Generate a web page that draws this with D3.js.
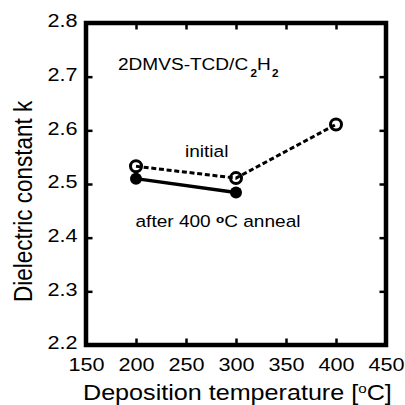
<!DOCTYPE html>
<html>
<head>
<meta charset="utf-8">
<script src="https://cdn.jsdelivr.net/npm/d3@7"></script>
<style>
  body { margin: 0; background: #fff; }
  text { font-family: "Liberation Sans", Arial, sans-serif; }
</style>
</head>
<body>
<div class="main"></div>
<script>
//// Data
const temps = [200, 300, 400];
const initialK = [2.533, 2.511, 2.611];
const annealTemps = [200, 300];
const annealK = [2.51, 2.484];
const xTicks = [150, 200, 250, 300, 350, 400, 450];
const yTicks = [2.2, 2.3, 2.4, 2.5, 2.6, 2.7, 2.8];

//// Globals
const width = 405;
const height = 405;
const margin = { top: 23, right: 19, bottom: 60, left: 86 };
const sx = 1.17; // text in the original is stretched horizontally

const svg = d3.select('.main').append('svg')
  .attr('width', width)
  .attr('height', height);

const x = d3.scaleLinear().domain([150, 450]).range([margin.left, width - margin.right]);
const y = d3.scaleLinear().domain([2.2, 2.8]).range([height - margin.bottom, margin.top]);

// ticks (inside, all four sides)
const tickLen = 6.5;
svg.append('g')
  .attr('transform', `translate(0,${y(2.2)})`)
  .call(d3.axisBottom(x).tickValues(xTicks).tickSize(-tickLen).tickFormat(d3.format('d')))
  .call(g => g.select('.domain').remove())
  .call(g => g.selectAll('line').attr('stroke-width', 2.5))
  .call(g => g.selectAll('text').attr('dy', 0).attr('y', 26).attr('font-size', 18.5)
    .attr('fill', '#000').attr('transform', `scale(${sx},1)`));

svg.append('g')
  .attr('transform', `translate(0,${y(2.8)})`)
  .call(d3.axisTop(x).tickValues(xTicks).tickSize(-tickLen).tickFormat(''))
  .call(g => g.select('.domain').remove())
  .call(g => g.selectAll('line').attr('stroke-width', 2.5));

svg.append('g')
  .attr('transform', `translate(${x(150)},0)`)
  .call(d3.axisLeft(y).tickValues(yTicks).tickSize(-tickLen).tickFormat(d3.format('.1f')))
  .call(g => g.select('.domain').remove())
  .call(g => g.selectAll('line').attr('stroke-width', 2.5))
  .call(g => g.selectAll('text').attr('x', -8.5 / sx).attr('dy', '0.2em').attr('font-size', 18.5)
    .attr('fill', '#000').attr('transform', `scale(${sx},1)`));

svg.append('g')
  .attr('transform', `translate(${x(450)},0)`)
  .call(d3.axisRight(y).tickValues(yTicks).tickSize(-tickLen).tickFormat(''))
  .call(g => g.select('.domain').remove())
  .call(g => g.selectAll('line').attr('stroke-width', 2.5));

// frame
svg.append('rect')
  .attr('x', x(150))
  .attr('y', y(2.8))
  .attr('width', x(450) - x(150))
  .attr('height', y(2.2) - y(2.8))
  .attr('fill', 'none')
  .attr('stroke', '#000')
  .attr('stroke-width', 4.5);

// lines
const line = d3.line().x(d => x(d[0])).y(d => y(d[1]));

svg.append('path')
  .datum(d3.zip(temps, initialK))
  .attr('d', line)
  .attr('fill', 'none')
  .attr('stroke', '#000')
  .attr('stroke-width', 3)
  .attr('stroke-dasharray', '5,2.7');

svg.append('path')
  .datum(d3.zip(annealTemps, annealK))
  .attr('d', line)
  .attr('fill', 'none')
  .attr('stroke', '#000')
  .attr('stroke-width', 3.5);

// markers
svg.append('g')
  .selectAll('circle')
  .data(d3.zip(annealTemps, annealK))
  .enter()
  .append('circle')
  .attr('cx', d => x(d[0]))
  .attr('cy', d => y(d[1]))
  .attr('r', 6)
  .attr('fill', '#000');

svg.append('g')
  .selectAll('circle')
  .data(d3.zip(temps, initialK))
  .enter()
  .append('circle')
  .attr('cx', d => x(d[0]))
  .attr('cy', d => y(d[1]))
  .attr('r', 5.5)
  .attr('fill', 'none')
  .attr('stroke', '#000')
  .attr('stroke-width', 3);

// annotations
const label = svg.append('text')
  .attr('transform', `translate(118,70) scale(${sx},1)`)
  .attr('font-size', 16.3);
label.append('tspan').text('2DMVS-TCD/C');
label.append('tspan').attr('dx', 2).attr('dy', 7).attr('font-size', 10).attr('font-weight', 'bold').text('2');
label.append('tspan').attr('dy', -7).text('H');
label.append('tspan').attr('dx', 1).attr('dy', 7).attr('font-size', 10).attr('font-weight', 'bold').text('2');

svg.append('text')
  .attr('transform', `translate(185,156.5) scale(${sx},1)`)
  .attr('font-size', 16.3)
  .text('initial');

const ann = svg.append('text')
  .attr('transform', `translate(135.5,226.5) scale(${sx},1)`)
  .attr('font-size', 16.3);
ann.append('tspan').text('after 400 ');
ann.append('tspan').attr('dy', -4).attr('font-size', 11.5).attr('font-weight', 'bold').text('o');
ann.append('tspan').attr('dy', 4).text('C anneal');

// axis titles
const xt = svg.append('text')
  .attr('transform', `translate(83,399.5) scale(${sx},1)`)
  .attr('font-size', 21.5);
xt.append('tspan').text('Deposition temperature [');
xt.append('tspan').attr('dy', -7).attr('font-size', 13).text('o');
xt.append('tspan').attr('dy', 7).text('C]');

svg.append('text')
  .attr('transform', `translate(32,302) scale(${sx},1) rotate(-90)`)
  .attr('font-size', 22.5)
  .text('Dielectric constant k');
</script>
</body>
</html>
